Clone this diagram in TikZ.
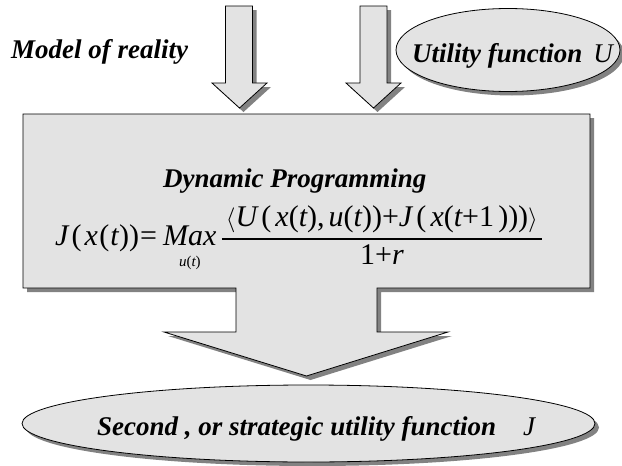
\documentclass[tikz,border=0pt]{standalone}
\usepackage{amsmath}
\usepackage{fontspec}
\setmainfont{Liberation Serif}
\usetikzlibrary{shadows,shapes.geometric}
\definecolor{boxfill}{RGB}{227,227,227}
\definecolor{shadowgray}{RGB}{130,130,130}
\newcommand\mi[1]{\textit{#1}}
\newcommand\tu[1]{\textup{#1}}
\newcommand\hs[1]{\hspace{#1pt}}
\tikzset{
  shape3d/.style={draw=black, line width=0.8pt, fill=boxfill,
    drop shadow={shadow xshift=4pt, shadow yshift=-4pt, fill=shadowgray, opacity=1}},
  lbl/.style={font=\fontsize{27}{32}\selectfont\bfseries\itshape, inner sep=0pt, anchor=base west},
  eqstyle/.style={font=\fontsize{30}{36}\selectfont, inner sep=0pt, anchor=base west},
  ell/.style={shape3d, ellipse, inner sep=0pt},
}
\begin{document}
\begin{tikzpicture}[x=1pt,y=-1pt]
\useasboundingbox (0,0) rectangle (622,466);
% top arrows
\path[shape3d] (225.5,6) -- (252.5,6) -- (252.5,83) -- (267,83) -- (239.5,108) -- (212,83) -- (225.5,83) -- cycle;
\path[shape3d] (360,6) -- (387,6) -- (387,83) -- (401,83) -- (373.5,108) -- (346,83) -- (360,83) -- cycle;
% utility ellipse
\node[ell, minimum width=224pt, minimum height=83pt] (uell) at (508,50) {};
\node[lbl] (model) at (11,58) {Model of reality};
\node[lbl] (util) at (412,62) {Utility function\hspace{0.4em}{\mdseries U}};
% box with down arrow
\path[shape3d] (23,114) -- (590,114) -- (590,288) -- (377,288) -- (377,332) -- (448,332) -- (306.5,376) -- (164,332) -- (236,332) -- (236,288) -- (23,288) -- cycle;
\node[lbl] (dp) at (163,187) {Dynamic Programming};
\node[eqstyle] (eq) at (55,245) {$\displaystyle \mi{J}\hs{3}\tu{(}\hs{3}\mi{x}\hs{1.5}\tu{(}\hs{1}\mi{t}\hs{0.5}\tu{)}\tu{)}\hs{1}\tu{=}\hs{2}\mathop{\mi{Max}}\limits_{\scriptscriptstyle\rule{0pt}{17pt}\mi{u}\tu{(}\mi{t}\tu{)}}\genfrac{}{}{1.6pt}{0}{\hs{4}\langle \mi{U}\,\tu{(}\,\mi{x}\tu{(}\mi{t}\tu{)}\tu{,}\,\mi{u}\tu{(}\mi{t}\tu{)}\tu{)}\tu{+}\mi{J}\,\tu{(}\,\mi{x}\tu{(}\mi{t}\tu{+}\tu{1}\,\tu{)}\tu{)}\tu{)}\rangle\hs{4}}{\tu{1}\tu{+}\mi{r}}$};
% bottom ellipse
\node[ell, minimum width=573pt, minimum height=77pt] (jell) at (308.5,423.5) {};
\node[lbl] (strat) at (97,435) {Second , or strategic utility function\hspace{1em}{\mdseries J}};
\end{tikzpicture}
\end{document}
